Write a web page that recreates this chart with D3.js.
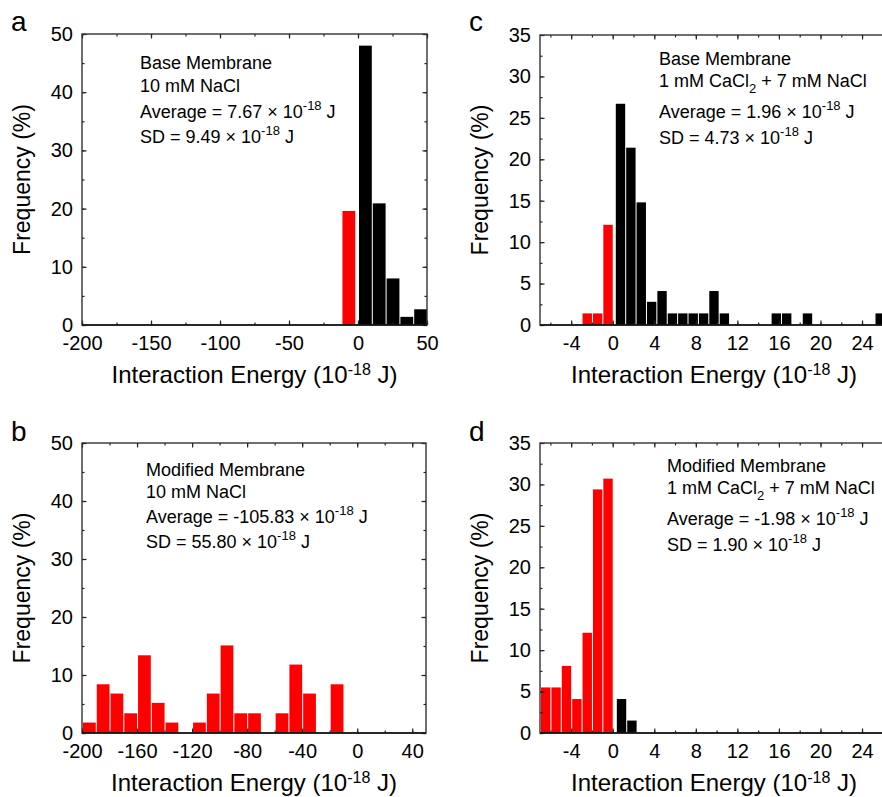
<!DOCTYPE html>
<html>
<head>
<meta charset="utf-8">
<script src="https://cdn.jsdelivr.net/npm/d3@7"></script>
<style>
  body { margin: 0; background: #fff; }
  svg { display: block; font-family: "Liberation Sans", Arial, sans-serif; }
  .tick line { stroke: #222; stroke-width: 1.2; }
  .tick text { font-size: 20px; fill: #000; }
</style>
</head>
<body>
<svg width="882" height="797"></svg>
<script>
// ---- data (bin start, frequency %) ----
var aRedStart = [-12], aRedFreq = [19.6];
var aBlackStart = [0, 10, 20, 30, 40], aBlackFreq = [48.0, 20.9, 8.0, 1.4, 2.7];
var aBin = 10;

var bRedStart = [-200, -190, -180, -170, -160, -150, -140, -120, -110, -100, -90, -80, -60, -50, -40, -20];
var bRedFreq = [1.8, 8.4, 6.8, 3.4, 13.4, 5.2, 1.8, 1.8, 6.8, 15.1, 3.4, 3.4, 3.4, 11.8, 6.8, 8.4];
var bBlackStart = [], bBlackFreq = [];
var bBin = 10;

var cRedStart = [-3, -2, -1], cRedFreq = [1.4, 1.4, 12.1];
var cBlackStart = [0.2, 1.2, 2.2, 3.2, 4.2, 5.2, 6.2, 7.2, 8.2, 9.2, 10.2, 15.2, 16.2, 18.2, 25.2];
var cBlackFreq = [26.7, 21.4, 14.8, 2.8, 4.1, 1.4, 1.4, 1.4, 1.4, 4.1, 1.4, 1.4, 1.4, 1.4, 1.4];
var cBin = 1;

var dRedStart = [-7, -6, -5, -4, -3, -2, -1], dRedFreq = [5.5, 5.5, 8.1, 4.1, 12.1, 29.4, 30.7];
var dBlackStart = [0.3, 1.3], dBlackFreq = [4.1, 1.5];
var dBin = 1;

// tick values
var wideMajor = [-200, -150, -100, -50, 0, 50];
var wideMinor = d3.range(-200, 51, 25);
var wideMajorB = [-200, -160, -120, -80, -40, 0, 40];
var wideMinorB = d3.range(-200, 51, 20);
var narrowMajor = [-4, 0, 4, 8, 12, 16, 20, 24];
var narrowMinor = d3.range(-6, 27, 2);
var yMajor50 = [0, 10, 20, 30, 40, 50], yMinor50 = d3.range(0, 51, 5);
var yMajor35 = [0, 5, 10, 15, 20, 25, 30, 35], yMinor35 = d3.range(0, 35.1, 2.5);

var svg = d3.select("svg");

// text with super/subscripts: shift each segment relative to the previous one
function addText(sel, parts) {
  var cur = 0;
  parts.forEach(function(p) {
    var target = p.sup ? -8 : (p.sub ? 6 : 0);
    var ts = sel.append("tspan").text(p.t);
    if (target !== cur) ts.attr("dy", target - cur);
    if (p.sup || p.sub) ts.style("font-size", "13px");
    cur = target;
  });
}

function panel(o) {
  var x = d3.scaleLinear().domain(o.xDomain).range([o.left, o.right]);
  var y = d3.scaleLinear().domain(o.yDomain).range([o.bottom, o.top]);
  var g = svg.append("g");

  var clip = "clip-" + o.label;
  g.append("clipPath").attr("id", clip).append("rect")
      .attr("x", o.left).attr("y", o.top)
      .attr("width", o.right - o.left).attr("height", o.bottom - o.top);

  var bars = g.append("g").attr("clip-path", "url(#" + clip + ")");
  function drawBars(starts, freqs, color) {
    bars.selectAll(null)
      .data(starts.map(function(s, i) { return {x0: s, f: freqs[i]}; }))
      .enter().append("rect")
        .attr("x", function(d) { return x(d.x0) + 1; })
        .attr("width", function(d) { return x(d.x0 + o.bin) - x(d.x0) - 1; })
        .attr("y", function(d) { return y(d.f); })
        .attr("height", function(d) { return y(0) - y(d.f); })
        .attr("fill", color);
  }
  drawBars(o.redStart, o.redFreq, "#ff0000");
  drawBars(o.blackStart, o.blackFreq, "#000000");

  var fmt = function(d) { return String(d); };

  // bottom axis
  g.append("g").attr("transform", "translate(0," + o.bottom + ")")
      .call(d3.axisBottom(x).tickValues(o.xMinor).tickSize(-2.5).tickFormat(""))
      .call(function(s) { s.select(".domain").remove(); });
  g.append("g").attr("transform", "translate(0," + o.bottom + ")")
      .call(d3.axisBottom(x).tickValues(o.xMajor).tickSize(-4.5).tickPadding(11).tickFormat(fmt))
      .call(function(s) { s.select(".domain").remove(); });
  // top axis
  g.append("g").attr("transform", "translate(0," + o.top + ")")
      .call(d3.axisTop(x).tickValues(o.xMinor).tickSize(-2.5).tickFormat(""))
      .call(function(s) { s.select(".domain").remove(); });
  g.append("g").attr("transform", "translate(0," + o.top + ")")
      .call(d3.axisTop(x).tickValues(o.xMajor).tickSize(-4.5).tickFormat(""))
      .call(function(s) { s.select(".domain").remove(); });
  // left axis
  g.append("g").attr("transform", "translate(" + o.left + ",0)")
      .call(d3.axisLeft(y).tickValues(o.yMinor).tickSize(-2.5).tickFormat(""))
      .call(function(s) { s.select(".domain").remove(); });
  g.append("g").attr("transform", "translate(" + o.left + ",0)")
      .call(d3.axisLeft(y).tickValues(o.yMajor).tickSize(-4.5).tickPadding(9).tickFormat(fmt))
      .call(function(s) { s.select(".domain").remove(); });
  // right axis
  g.append("g").attr("transform", "translate(" + o.right + ",0)")
      .call(d3.axisRight(y).tickValues(o.yMinor).tickSize(-2.5).tickFormat(""))
      .call(function(s) { s.select(".domain").remove(); });
  g.append("g").attr("transform", "translate(" + o.right + ",0)")
      .call(d3.axisRight(y).tickValues(o.yMajor).tickSize(-4.5).tickFormat(""))
      .call(function(s) { s.select(".domain").remove(); });

  g.selectAll(".tick text").attr("font-family", null).attr("font-size", null);

  // frame
  g.append("rect")
      .attr("x", o.left).attr("y", o.top)
      .attr("width", o.right - o.left).attr("height", o.bottom - o.top)
      .attr("fill", "none").attr("stroke", "#333").attr("stroke-width", 1.4);
  g.append("line")
      .attr("x1", o.left).attr("x2", o.right).attr("y1", o.bottom).attr("y2", o.bottom)
      .attr("stroke", "#111").attr("stroke-width", 1.6);

  // panel letter
  g.append("text").attr("x", o.labelX).attr("y", o.labelY)
      .style("font-size", "28px").text(o.label);

  // axis titles
  var xt = g.append("text")
      .attr("x", (o.left + o.right) / 2).attr("y", o.bottom + 58)
      .attr("text-anchor", "middle").style("font-size", "24px");
  addText(xt, [{t: "Interaction Energy (10"}, {t: "-18", sup: true}, {t: " J)"}]);
  xt.selectAll("tspan").filter(function(d, i) { return i === 1; }).style("font-size", "16px");

  g.append("text")
      .attr("transform", "translate(" + (o.left - 52) + "," + ((o.top + o.bottom) / 2) + ") rotate(-90)")
      .attr("text-anchor", "middle").style("font-size", "23px")
      .text("Frequency (%)");

  // annotation
  o.notes.forEach(function(n, i) {
    var t = g.append("text").attr("x", o.noteX).attr("y", o.top + o.noteDy[i])
        .style("font-size", "18px");
    addText(t, n);
  });
}

panel({
  label: "a", labelX: 11, labelY: 31,
  left: 82, right: 427, top: 34, bottom: 325,
  xDomain: [-200, 50], yDomain: [0, 50],
  xMajor: wideMajor, xMinor: wideMinor, yMajor: yMajor50, yMinor: yMinor50,
  bin: aBin, redStart: aRedStart, redFreq: aRedFreq, blackStart: aBlackStart, blackFreq: aBlackFreq,
  noteX: 140, noteDy: [35, 58, 84, 109],
  notes: [
    [{t: "Base Membrane"}],
    [{t: "10 mM NaCl"}],
    [{t: "Average = 7.67 × 10"}, {t: "-18", sup: true}, {t: " J"}],
    [{t: "SD = 9.49 × 10"}, {t: "-18", sup: true}, {t: " J"}]
  ]
});

panel({
  label: "b", labelX: 11, labelY: 441,
  left: 82, right: 426, top: 443, bottom: 733,
  xDomain: [-200, 50], yDomain: [0, 50],
  xMajor: wideMajorB, xMinor: wideMinorB, yMajor: yMajor50, yMinor: yMinor50,
  bin: bBin, redStart: bRedStart, redFreq: bRedFreq, blackStart: bBlackStart, blackFreq: bBlackFreq,
  noteX: 146, noteDy: [33, 55, 80, 105],
  notes: [
    [{t: "Modified Membrane"}],
    [{t: "10 mM NaCl"}],
    [{t: "Average = -105.83 × 10"}, {t: "-18", sup: true}, {t: " J"}],
    [{t: "SD = 55.80 × 10"}, {t: "-18", sup: true}, {t: " J"}]
  ]
});

panel({
  label: "c", labelX: 469, labelY: 31,
  left: 540, right: 888, top: 35, bottom: 325,
  xDomain: [-7, 26.5], yDomain: [0, 35],
  xMajor: narrowMajor, xMinor: narrowMinor, yMajor: yMajor35, yMinor: yMinor35,
  bin: cBin, redStart: cRedStart, redFreq: cRedFreq, blackStart: cBlackStart, blackFreq: cBlackFreq,
  noteX: 659, noteDy: [30, 52, 83, 109],
  notes: [
    [{t: "Base Membrane"}],
    [{t: "1 mM CaCl"}, {t: "2", sub: true}, {t: " + 7 mM NaCl"}],
    [{t: "Average = 1.96 × 10"}, {t: "-18", sup: true}, {t: " J"}],
    [{t: "SD = 4.73 × 10"}, {t: "-18", sup: true}, {t: " J"}]
  ]
});

panel({
  label: "d", labelX: 469, labelY: 441,
  left: 540, right: 888, top: 443, bottom: 733,
  xDomain: [-7, 26.5], yDomain: [0, 35],
  xMajor: narrowMajor, xMinor: narrowMinor, yMajor: yMajor35, yMinor: yMinor35,
  bin: dBin, redStart: dRedStart, redFreq: dRedFreq, blackStart: dBlackStart, blackFreq: dBlackFreq,
  noteX: 667, noteDy: [29, 51, 82, 108],
  notes: [
    [{t: "Modified Membrane"}],
    [{t: "1 mM CaCl"}, {t: "2", sub: true}, {t: " + 7 mM NaCl"}],
    [{t: "Average = -1.98 × 10"}, {t: "-18", sup: true}, {t: " J"}],
    [{t: "SD = 1.90 × 10"}, {t: "-18", sup: true}, {t: " J"}]
  ]
});
</script>
</body>
</html>
